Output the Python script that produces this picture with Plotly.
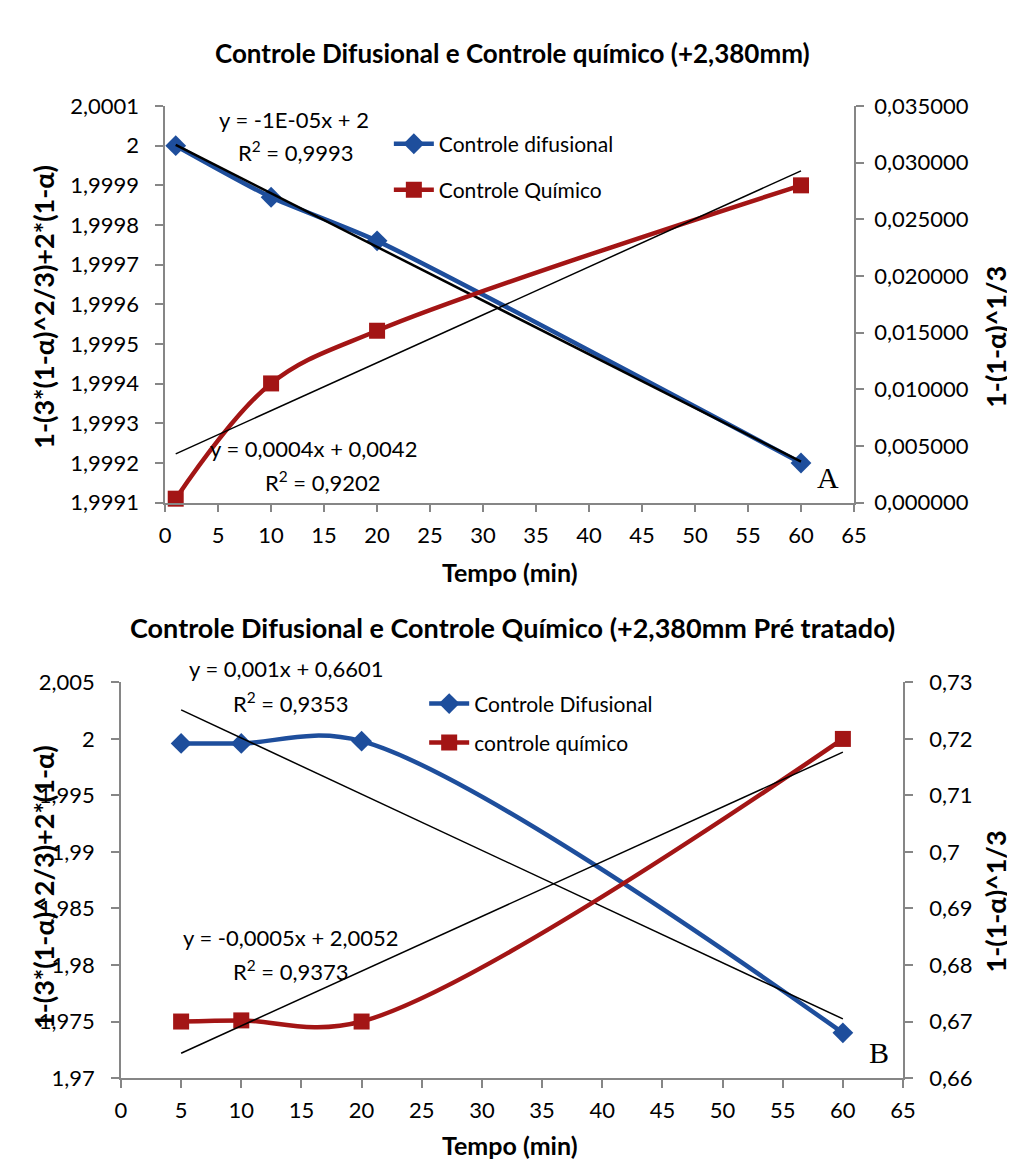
import numpy as np
import plotly.graph_objects as go

# ---------------- data ----------------
# Chart A (+2,380mm)
tempo_a = [1, 10, 20, 60]
difusional_a = [2.00000, 1.99987, 1.99976, 1.99920]
quimico_a = [0.00035, 0.01052, 0.01517, 0.02800]

# Chart B (+2,380mm Pré tratado)
tempo_b = [5, 10, 20, 60]
difusional_b = [1.99960, 1.99960, 1.99980, 1.97400]
quimico_b = [0.67000, 0.67020, 0.67000, 0.72000]

# tick labels
x_ticks = [0, 5, 10, 15, 20, 25, 30, 35, 40, 45, 50, 55, 60, 65]
a_left_vals = [1.9991, 1.9992, 1.9993, 1.9994, 1.9995, 1.9996, 1.9997, 1.9998, 1.9999, 2.0, 2.0001]
a_left_text = ["1,9991", "1,9992", "1,9993", "1,9994", "1,9995", "1,9996", "1,9997", "1,9998", "1,9999", "2", "2,0001"]
a_right_vals = [0.0, 0.005, 0.01, 0.015, 0.02, 0.025, 0.03, 0.035]
a_right_text = ["0,000000", "0,005000", "0,010000", "0,015000", "0,020000", "0,025000", "0,030000", "0,035000"]
b_left_vals = [1.97, 1.975, 1.98, 1.985, 1.99, 1.995, 2.0, 2.005]
b_left_text = ["1,97", "1,975", "1,98", "1,985", "1,99", "1,995", "2", "2,005"]
b_right_vals = [0.66, 0.67, 0.68, 0.69, 0.70, 0.71, 0.72, 0.73]
b_right_text = ["0,66", "0,67", "0,68", "0,69", "0,7", "0,71", "0,72", "0,73"]

# texts
title_a = "Controle Difusional e Controle químico (+2,380mm)"
title_b = "Controle Difusional e Controle Químico (+2,380mm Pré tratado)"
names_a = ["Controle difusional", "Controle Químico"]
names_b = ["Controle Difusional", "controle químico"]
eq_a = ["y = -1E-05x + 2", "R<sup>2</sup> = 0,9993", "y = 0,0004x + 0,0042", "R<sup>2</sup> = 0,9202"]
eq_b = ["y = 0,001x + 0,6601", "R<sup>2</sup> = 0,9353", "y = -0,0005x + 2,0052", "R<sup>2</sup> = 0,9373"]
left_title = "1-(3*(1-α)^2/3)+2*(1-α)"
right_title = "1-(1-α)^1/3"
x_title = "Tempo (min)"

# ---------------- styling ----------------
W, H = 1015, 1170
FONT = "Lato"
BLUE = "#1E4E9C"
RED = "#A31515"
AXC = "#868686"


def px(x):
    return x / W


def py(y):
    return 1 - y / H


def trend(x, y):
    c = np.polyfit(x, y, 1)
    xs = np.array([min(x), max(x)], dtype=float)
    return xs, np.polyval(c, xs)


fig = go.Figure()

# ---- Chart A ----
fig.add_trace(go.Scatter(x=tempo_a, y=difusional_a, name=names_a[0], mode="lines+markers",
                         line=dict(color=BLUE, width=4.5, shape="spline", smoothing=0.6),
                         marker=dict(symbol="diamond", size=16, color=BLUE),
                         xaxis="x", yaxis="y", legend="legend", cliponaxis=False))
fig.add_trace(go.Scatter(x=tempo_a, y=quimico_a, name=names_a[1], mode="lines+markers",
                         line=dict(color=RED, width=4.5, shape="spline"),
                         marker=dict(symbol="square", size=16, color=RED),
                         xaxis="x", yaxis="y2", legend="legend2", cliponaxis=False))
tx, ty = trend(tempo_a, difusional_a)
fig.add_trace(go.Scatter(x=tx, y=ty, mode="lines", line=dict(color="black", width=2.5),
                         xaxis="x", yaxis="y", showlegend=False, hoverinfo="skip"))
tx, ty = trend(tempo_a, quimico_a)
fig.add_trace(go.Scatter(x=tx, y=ty, mode="lines", line=dict(color="black", width=1.5),
                         xaxis="x", yaxis="y2", showlegend=False, hoverinfo="skip"))

# ---- Chart B ----
fig.add_trace(go.Scatter(x=tempo_b, y=difusional_b, name=names_b[0], mode="lines+markers",
                         line=dict(color=BLUE, width=4.5, shape="spline"),
                         marker=dict(symbol="diamond", size=16, color=BLUE),
                         xaxis="x2", yaxis="y3", legend="legend3", cliponaxis=False))
fig.add_trace(go.Scatter(x=tempo_b, y=quimico_b, name=names_b[1], mode="lines+markers",
                         line=dict(color=RED, width=4.5, shape="spline"),
                         marker=dict(symbol="square", size=16, color=RED),
                         xaxis="x2", yaxis="y4", legend="legend4", cliponaxis=False))
tx, ty = trend(tempo_b, difusional_b)
fig.add_trace(go.Scatter(x=tx, y=ty, mode="lines", line=dict(color="black", width=1.5),
                         xaxis="x2", yaxis="y3", showlegend=False, hoverinfo="skip"))
tx, ty = trend(tempo_b, quimico_b)
fig.add_trace(go.Scatter(x=tx, y=ty, mode="lines", line=dict(color="black", width=1.5),
                         xaxis="x2", yaxis="y4", showlegend=False, hoverinfo="skip"))

tickfont = dict(family=FONT, size=22, color="black")
axis_common = dict(showgrid=False, zeroline=False, showline=True, linecolor=AXC, linewidth=1.5,
                   ticks="outside", tickcolor=AXC, ticklen=8, tickwidth=1.5, tickfont=tickfont)

dom_a_x = [px(154), px(856)]
dom_a_y = [py(492), py(86)]
dom_b_x = [px(109), px(906)]
dom_b_y = [py(1081), py(676)]

fig.update_layout(
    width=W, height=H,
    margin=dict(l=0, r=0, t=0, b=0),
    paper_bgcolor="white", plot_bgcolor="white",
    font=dict(family=FONT, size=20, color="black"),
    xaxis=dict(domain=dom_a_x, anchor="y", range=[0, 65], tickvals=x_ticks,
               ticklabelstandoff=4, **axis_common),
    yaxis=dict(domain=dom_a_y, anchor="x", range=[1.9991, 2.0001], tickvals=a_left_vals,
               ticktext=a_left_text, ticklabelstandoff=12, **axis_common),
    yaxis2=dict(overlaying="y", side="right", anchor="x", range=[0, 0.035], tickvals=a_right_vals,
                ticktext=a_right_text, ticklabelstandoff=6, **axis_common),
    xaxis2=dict(domain=dom_b_x, anchor="y3", range=[0, 65], tickvals=x_ticks,
                ticklabelstandoff=4, **axis_common),
    yaxis3=dict(domain=dom_b_y, anchor="x2", range=[1.97, 2.005], tickvals=b_left_vals,
                ticktext=b_left_text, ticklabelstandoff=12, **axis_common),
    yaxis4=dict(overlaying="y3", side="right", anchor="x2", range=[0.66, 0.73], tickvals=b_right_vals,
                ticktext=b_right_text, ticklabelstandoff=12, **axis_common),
)

legfont = dict(family=FONT, size=21, color="black")
leg_common = dict(xanchor="left", yanchor="middle", bgcolor="rgba(0,0,0,0)", font=legfont,
                  itemwidth=40)
fig.update_layout(
    legend=dict(x=px(382), y=py(125), **leg_common),
    legend2=dict(x=px(382), y=py(172), **leg_common),
    legend3=dict(x=px(418), y=py(698), **leg_common),
    legend4=dict(x=px(418), y=py(738), **leg_common),
)

ann = []


def text(x, y, s, size=22, bold=False, angle=0, family=FONT):
    ann.append(dict(x=px(x), y=py(y), xref="paper", yref="paper", text=("<b>%s</b>" % s) if bold else s,
                    showarrow=False, xanchor="center", yanchor="middle", textangle=angle,
                    font=dict(family=family, size=size, color="black")))


text(508, 32, title_a, size=26, bold=True)
text(508, 620, title_b, size=27, bold=True)
text(285, 100, eq_a[0])
text(287, 133, eq_a[1])
text(305, 437, eq_a[2])
text(315, 470, eq_a[3])
text(278, 662, eq_b[0])
text(282, 697, eq_b[1])
text(282, 937, eq_b[2])
text(282, 971, eq_b[3])
text(830, 466, "A", size=30, family="Liberation Serif")
text(882, 1055, "B", size=30, family="Liberation Serif")
text(30, 291, left_title, size=27, bold=True, angle=-90)
text(30, 885, left_title, size=27, bold=True, angle=-90)
text(1000, 322, right_title, size=27, bold=True, angle=-90)
text(1000, 900, right_title, size=27, bold=True, angle=-90)
text(505, 563, x_title, size=25, bold=True)
text(505, 1150, x_title, size=25, bold=True)
fig.update_layout(annotations=ann)

fig.write_html("out.html")
